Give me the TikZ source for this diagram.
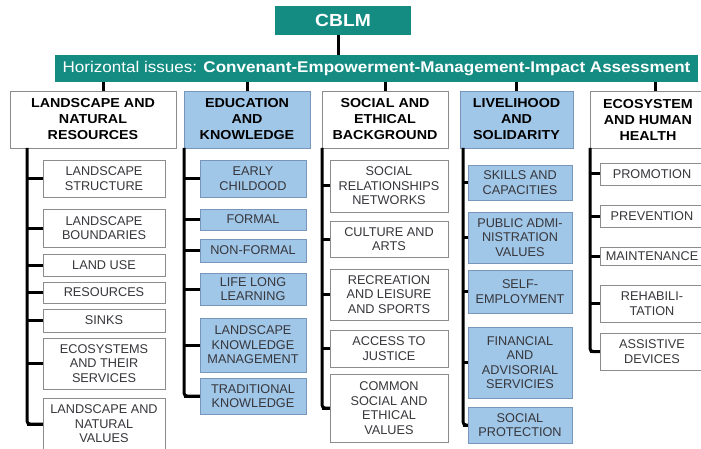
\documentclass[tikz,border=0pt]{standalone}
\usepackage{fontspec}
\setmainfont{Liberation Sans}
\newfontfamily\widefont[FakeStretch=1.1]{Liberation Sans}
\definecolor{cblmteal}{RGB}{20,140,130}
\definecolor{boxblue}{RGB}{160,198,232}
\definecolor{blueedge}{RGB}{120,150,185}
\definecolor{greyedge}{RGB}{140,140,140}
\definecolor{leaftext}{RGB}{55,55,60}
\tikzset{
  tealbox/.style={fill=cblmteal, text=white, inner sep=0pt},
  headbox/.style={draw=greyedge, fill=white, inner sep=0pt, align=center,
    minimum height=57pt, font=\widefont\bfseries\fontsize{13}{16}\selectfont},
  leafbox/.style={draw=greyedge, fill=white, inner sep=0pt, align=center,
    text=leaftext, font=\fontsize{12.7}{14.5}\selectfont},
  bluebox/.style={fill=boxblue, draw=blueedge},
  conn/.style={line width=3pt},
  trunk/.style={line width=3pt, rounded corners=3pt},
}
\begin{document}
\begin{tikzpicture}[x=1pt, y=-1pt]
  \useasboundingbox (0,0) rectangle (701,449);

  % Title and horizontal issues
  \node[tealbox, minimum width=136pt, minimum height=29pt,
    font=\widefont\bfseries\fontsize{17.5}{20}\selectfont] (cblm) at (343,20.5) {CBLM};
  \node[tealbox, minimum width=643pt, minimum height=27pt,
    font=\widefont\fontsize{15.5}{18}\selectfont] (bar) at (376.5,68.5)
    {Horizontal issues: \textbf{Convenant-Empowerment-Management-Impact Assessment}};
  \draw[conn] ([xshift=-5pt]cblm.south) -- ([xshift=-5pt]cblm.south |- bar.north);

  % Main headings
  \node[headbox, minimum width=166pt] (h1) at (93,119.5) {LANDSCAPE AND\\NATURAL\\RESOURCES};
  \node[headbox, bluebox, minimum width=126pt] (h2) at (247,119.5) {EDUCATION\\AND\\KNOWLEDGE};
  \node[headbox, minimum width=126pt] (h3) at (385,119.5) {SOCIAL AND\\ETHICAL\\BACKGROUND};
  \node[headbox, bluebox, minimum width=113pt] (h4) at (516.5,119.5) {LIVELIHOOD\\AND\\SOLIDARITY};
  \node[headbox, minimum width=116pt] (h5) at (648,119.5) {ECOSYSTEM\\AND HUMAN\\HEALTH};

  % Bar to headings
  \draw[conn] ([xshift=10pt]h1.north) -- ([xshift=10pt]h1.north |- bar.south);
  \foreach \hd in {h2,h3,h4}
    \draw[conn] (\hd.north) -- (\hd.north |- bar.south);
  \draw[conn] ([xshift=7pt]h5.north) -- ([xshift=7pt]h5.north |- bar.south);

  % Column 1
  \coordinate (t1) at (27,148);
  \foreach \n/\y/\h/\txt in {1/178.5/37/{LANDSCAPE\\STRUCTURE},
      2/228/38/{LANDSCAPE\\BOUNDARIES}, 3/265/22/{LAND USE},
      4/292.5/21/{RESOURCES}, 5/320.5/23/{SINKS},
      6/363.5/51/{ECOSYSTEMS\\AND THEIR\\SERVICES},
      7/424/52/{LANDSCAPE AND\\NATURAL\\VALUES}}
  {
    \node[leafbox, minimum width=122pt, minimum height=\h pt] (c1\n) at (104,\y) {\txt};
    \draw[conn] (c1\n.west) -- (c1\n.west -| t1);
  }
  \draw[trunk] (t1) |- (c17.west);

  % Column 2
  \coordinate (t2) at (184,148);
  \foreach \n/\y/\h/\txt in {1/178.5/37/{EARLY\\CHILDOOD},
      2/219.5/21/{FORMAL}, 3/250.5/23/{NON-FORMAL},
      4/289/32/{LIFE LONG\\LEARNING},
      5/345/54/{LANDSCAPE\\KNOWLEDGE\\MANAGEMENT},
      6/396/36/{TRADITIONAL\\KNOWLEDGE}}
  {
    \node[leafbox, bluebox, minimum width=106pt, minimum height=\h pt] (c2\n) at (253,\y) {\txt};
    \draw[conn] (c2\n.west) -- (c2\n.west -| t2);
  }
  \draw[trunk] (t2) |- (c26.west);

  % Column 3
  \coordinate (t3) at (322,148);
  \foreach \n/\y/\h/\txt in {1/186/52/{SOCIAL\\RELATIONSHIPS\\NETWORKS},
      2/239/36/{CULTURE AND\\ARTS},
      3/294.5/51/{RECREATION\\AND LEISURE\\AND SPORTS},
      4/348.5/37/{ACCESS TO\\JUSTICE},
      5/408/68/{COMMON\\SOCIAL AND\\ETHICAL\\VALUES}}
  {
    \node[leafbox, minimum width=118pt, minimum height=\h pt] (c3\n) at (389,\y) {\txt};
    \draw[conn] (c3\n.west) -- (c3\n.west -| t3);
  }
  \draw[trunk] (t3) |- (c35.west);

  % Column 4
  \coordinate (t4) at (463,148);
  \foreach \n/\y/\h/\txt in {1/182.5/35/{SKILLS AND\\CAPACITIES},
      2/237.5/51/{PUBLIC ADMI-\\NISTRATION\\VALUES},
      3/291.5/43/{SELF-\\EMPLOYMENT},
      4/362.5/71/{FINANCIAL\\AND\\ADVISORIAL\\SERVICIES},
      5/425/36/{SOCIAL\\PROTECTION}}
  {
    \node[leafbox, bluebox, minimum width=104pt, minimum height=\h pt] (c4\n) at (520,\y) {\txt};
    \draw[conn] (c4\n.west) -- (c4\n.west -| t4);
  }
  \draw[trunk] (t4) |- (c45.west);

  % Column 5
  \coordinate (t5) at (590,148);
  \foreach \n/\y/\h/\txt in {1/174/22/{PROMOTION}, 2/216/22/{PREVENTION},
      3/256/18/{MAINTENANCE}, 4/303.5/37/{REHABILI-\\TATION},
      5/351.5/37/{ASSISTIVE\\DEVICES}}
  {
    \node[leafbox, minimum width=104pt, minimum height=\h pt] (c5\n) at (652,\y) {\txt};
    \draw[conn] (c5\n.west) -- (c5\n.west -| t5);
  }
  \draw[trunk] (t5) |- (c55.west);
\end{tikzpicture}
\end{document}
